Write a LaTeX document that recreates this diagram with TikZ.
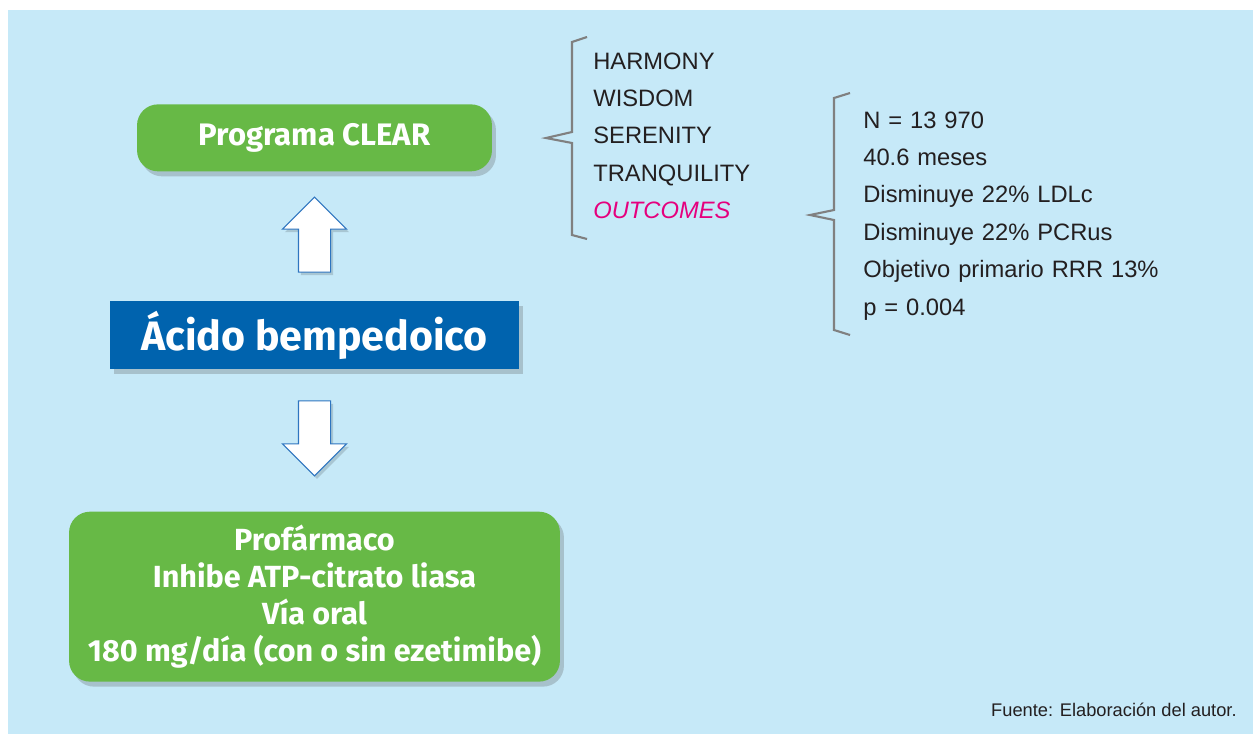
\documentclass[tikz,border=0pt]{standalone}
\usepackage{fontspec}
\setmainfont{Liberation Sans}
\newfontfamily\roundfont{Fira Sans}
\usetikzlibrary{positioning,shapes.arrows,shadows}

\definecolor{bgblue}{RGB}{198,233,248}
\definecolor{boxgreen}{RGB}{103,185,70}
\definecolor{boxblue}{RGB}{0,99,174}
\definecolor{bracegray}{RGB}{128,128,128}
\definecolor{outmagenta}{RGB}{229,0,126}
\definecolor{textdark}{RGB}{35,31,32}
\definecolor{arrowline}{RGB}{46,117,192}

\begin{document}
\begin{tikzpicture}[x=0.02cm, y=-0.02cm, node distance=0.285cm,
		box shadow/.style={drop shadow={shadow xshift=0.08cm, shadow yshift=-0.1cm, opacity=0.25, fill=black!70}},
		green box/.style={rectangle, rounded corners=0.42cm, fill=boxgreen, text=white, align=center, box shadow,
			font=\roundfont\bfseries\fontsize{17.4}{21}\selectfont},
		blue box/.style={rectangle, fill=boxblue, text=white, box shadow, minimum width=8.18cm, minimum height=1.36cm,
			font=\roundfont\bfseries\fontsize{23.4}{26}\selectfont},
		block arrow/.style={single arrow, draw=arrowline, fill=white, line width=0.6pt, inner sep=0.31cm,
			minimum height=1.5cm, single arrow head extend=0.32cm,
			drop shadow={shadow xshift=0.05cm, shadow yshift=-0.06cm, opacity=0.15, fill=black}},
		list item/.style={inner sep=0pt, text width=6cm, align=left, text height=0.35cm, text depth=0.1cm,
			text=textdark, font=\fontsize{13.5}{16}\selectfont},
		brace line/.style={draw=bracegray, line width=1.2pt}]
	
	\useasboundingbox (0,0) rectangle (1253,734);
	\fill[bgblue] (8,10) rectangle (1253,734);
	
	% left column
	\node[blue box] (acido) at (314.5,335) {Ácido bempedoico};
	\node[green box, minimum width=7.1cm, minimum height=1.34cm, font=\roundfont\bfseries\fontsize{17.7}{21}\selectfont]
		(clear) [above=2.58cm of acido] {Programa CLEAR};
	\node[green box, minimum width=9.82cm, minimum height=3.4cm] (prof) [below=2.84cm of acido]
		{Profármaco\\Inhibe ATP-citrato liasa\\Vía oral\\180 mg/día (con o sin ezetimibe)};
	
	\path (acido.north) -- (clear.south) node[pos=0.45, block arrow, rotate=90] (up) {};
	\path (acido.south) -- (prof.north) node[pos=0.43, block arrow, rotate=-90] (down) {};
	
	% studies
	\node[list item, anchor=base west] (harmony) at (593,69) {HARMONY};
	\node[list item] (wisdom) [below=of harmony] {WISDOM};
	\node[list item] (serenity) [below=of wisdom] {SERENITY};
	\node[list item] (tranquility) [below=of serenity] {TRANQUILITY};
	\node[list item, text=outmagenta, font=\fontsize{13.5}{16}\selectfont\itshape] (outcomes) [below=of tranquility] {OUTCOMES};
	
	\draw[brace line] (587,37) -- (572,42) -- (572,132) -- (546,138) -- (572,143) -- (572,235) -- (587,239);
	
	% results
	\node[list item, anchor=base west] (n) at (863,128) {N = 13 970};
	\node[list item] (meses) [below=of n] {40.6 meses};
	\node[list item] (ldl) [below=of meses] {Disminuye 22\% LDLc};
	\node[list item] (pcr) [below=of ldl] {Disminuye 22\% PCRus};
	\node[list item] (rrr) [below=of pcr] {Objetivo primario RRR 13\%};
	\node[list item] (pval) [below=of rrr] {p = 0.004};
	
	\draw[brace line] (850,93) -- (834,98) -- (834,210) -- (810,215) -- (834,220) -- (834,330) -- (850,335);
	
	\node[anchor=base east, inner sep=0pt, text=textdark, font=\fontsize{10.4}{12}\selectfont] (fuente) at (1237,716)
		{Fuente: Elaboración del autor.};
\end{tikzpicture}
\end{document}
